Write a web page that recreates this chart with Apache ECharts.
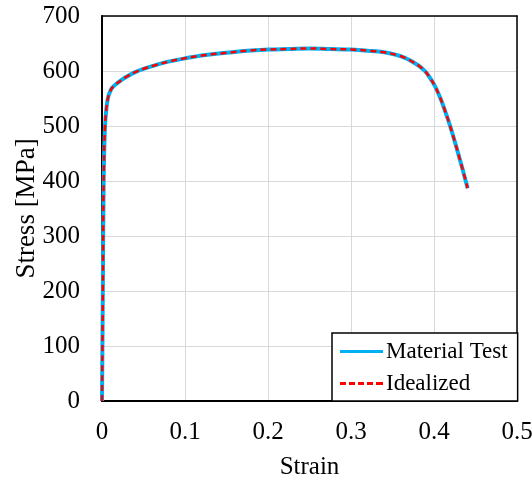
<!DOCTYPE html>
<html>
<head>
<meta charset="utf-8">
<script src="https://cdn.jsdelivr.net/npm/echarts@6/dist/echarts.min.js"></script>
<style>html,body{margin:0;padding:0;background:#fff;}#c{width:532px;height:484px;}</style>
</head>
<body>
<div id="c"></div>
<script>
const strain = [0, 0.001, 0.002, 0.0035, 0.0055, 0.0075, 0.0096, 0.012, 0.016, 0.022, 0.03, 0.04, 0.05, 0.065, 0.08, 0.1, 0.125, 0.15, 0.175, 0.2, 0.225, 0.25, 0.275, 0.3, 0.32, 0.34, 0.355, 0.365, 0.375, 0.383, 0.389, 0.395, 0.401, 0.407, 0.413, 0.419, 0.425, 0.431, 0.437, 0.4405];
const stressTest = [0, 200, 400, 495, 535, 553, 562, 569, 575, 582, 590, 598, 604, 611, 617, 623, 629, 633, 637, 639, 640, 641, 640, 639, 637, 634, 629, 624, 616, 608, 600, 588, 573, 553, 529, 502, 472, 440, 407, 387];
const stressIdeal = [0, 200, 400, 495, 535, 553, 562, 569, 575, 582, 590, 598, 604, 611, 617, 623, 629, 633, 637, 639, 640, 641, 640, 639, 637, 634, 629, 624, 616, 608, 600, 588, 573, 553, 529, 502, 472, 440, 407, 387];
const seriesNames = ['Material Test', 'Idealized'];

const font = 'Liberation Serif, Times New Roman, serif';
const chart = echarts.init(document.getElementById('c'));
const dashIcon = 'path://M0,0h6v3h-6z M9,0h6v3h-6z M18,0h6v3h-6z M27,0h6v3h-6z M36,0h7v3h-7z';
chart.setOption({
  animation: false,
  grid: { left: 102, right: 15, top: 16, bottom: 83, containLabel: false, outerBoundsMode: 'none' },
  xAxis: [{
    type: 'value', min: 0, max: 0.5, interval: 0.1,
    name: 'Strain', nameLocation: 'middle', nameGap: 54, nameMoveOverlap: false,
    nameTextStyle: { fontFamily: font, fontSize: 25, color: '#000' },
    axisLine: { show: true, onZero: false, lineStyle: { color: '#000', width: 2 } },
    axisTick: { show: false },
    axisLabel: { fontFamily: font, fontSize: 25, color: '#000', margin: 19 },
    splitLine: { show: true, lineStyle: { color: '#d9d9d9', width: 1 } }
  }, {
    type: 'value', min: 0, max: 0.5, position: 'top',
    axisLine: { show: true, onZero: false, lineStyle: { color: '#000', width: 1.5 } },
    axisTick: { show: false }, axisLabel: { show: false }, splitLine: { show: false }
  }],
  yAxis: [{
    type: 'value', min: 0, max: 700, interval: 100,
    name: 'Stress [MPa]', nameLocation: 'middle', nameGap: 62, nameMoveOverlap: false,
    nameTextStyle: { fontFamily: font, fontSize: 27, color: '#000' },
    axisLine: { show: true, onZero: false, lineStyle: { color: '#000', width: 2 } },
    axisTick: { show: false },
    axisLabel: { fontFamily: font, fontSize: 25, color: '#000', margin: 22 },
    splitLine: { show: true, lineStyle: { color: '#d9d9d9', width: 1 } }
  }, {
    type: 'value', min: 0, max: 700, position: 'right',
    axisLine: { show: true, onZero: false, lineStyle: { color: '#000', width: 1.5 } },
    axisTick: { show: false }, axisLabel: { show: false }, splitLine: { show: false }
  }],
  legend: {
    orient: 'vertical', left: 332, top: 333,
    backgroundColor: '#fff', borderColor: '#000', borderWidth: 1.5,
    padding: [7, 10, 6, 8], itemGap: 9, itemWidth: 43, itemHeight: 14,
    textStyle: { fontFamily: font, fontSize: 23, color: '#000', padding: [0, 0, 0, -2] },
    data: [
      { name: seriesNames[0], icon: 'path://M0,0L43,0L43,3L0,3Z', itemStyle: { color: '#00b0f0' } },
      { name: seriesNames[1], icon: dashIcon, itemStyle: { color: '#ff0000' } }
    ]
  },
  series: [
    {
      name: seriesNames[0], type: 'line', showSymbol: false, symbol: 'none',
      smooth: 0.4,
      data: strain.map((x, i) => [x, stressTest[i]]),
      lineStyle: { color: '#00b0f0', width: 4 },
      itemStyle: { color: '#00b0f0' }, z: 2
    },
    {
      name: seriesNames[1], type: 'line', showSymbol: false, symbol: 'none',
      smooth: 0.4,
      data: strain.map((x, i) => [x, stressIdeal[i]]),
      lineStyle: { color: '#ff0000', width: 2.5, type: [6, 4] },
      itemStyle: { color: '#ff0000' }, z: 3
    }
  ]
});
</script>
</body>
</html>
